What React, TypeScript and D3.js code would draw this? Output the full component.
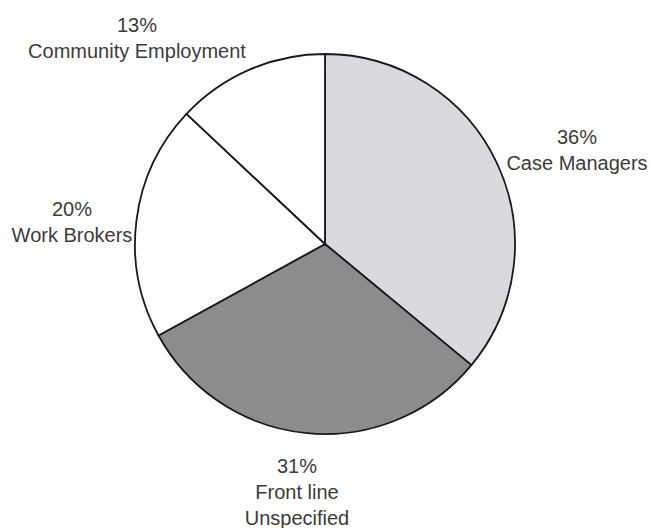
import React from "react";
import * as d3 from "d3";

const categories = ["Case Managers", "Front line Unspecified", "Work Brokers", "Community Employment"];
const values = [36, 31, 20, 13];
const colors = ["#d9d9de", "#8c8c8e", "#ffffff", "#ffffff"];
const labelLines = [["36%", "Case Managers"], ["31%", "Front line", "Unspecified"], ["20%", "Work Brokers"], ["13%", "Community Employment"]];
const labelPos = [[577, 144], [297, 473], [72, 216], [137, 32]];

export default function App() {
  const W = 651, H = 528;
  const cx = 325, cy = 244, r = 190;
  const pie = d3.pie<number>().sort(null).value((d) => d);
  const arcs = pie(values);
  const arc = d3.arc<d3.PieArcDatum<number>>().innerRadius(0).outerRadius(r);
  return (
    <svg width={W} height={H} style={{ position: "absolute", left: 0, top: 0, background: "#fff" }}>
      <rect width={W} height={H} fill="#fff" />
      <g transform={`translate(${cx},${cy})`}>
        {arcs.map((a, i) => (
          <path key={categories[i]} d={arc(a) || ""} fill={colors[i]} stroke="#1a1a1a" strokeWidth={1.8} strokeLinejoin="round" />
        ))}
      </g>
      {labelLines.map((lines, i) => (
        <text key={i} x={labelPos[i][0]} y={labelPos[i][1]} textAnchor="middle" fontFamily="'Liberation Sans', Arial, sans-serif" fontSize={20} fill="#3c3c3c">
          {lines.map((t, j) => (
            <tspan key={j} x={labelPos[i][0]} dy={j === 0 ? 0 : 26}>{t}</tspan>
          ))}
        </text>
      ))}
    </svg>
  );
}
